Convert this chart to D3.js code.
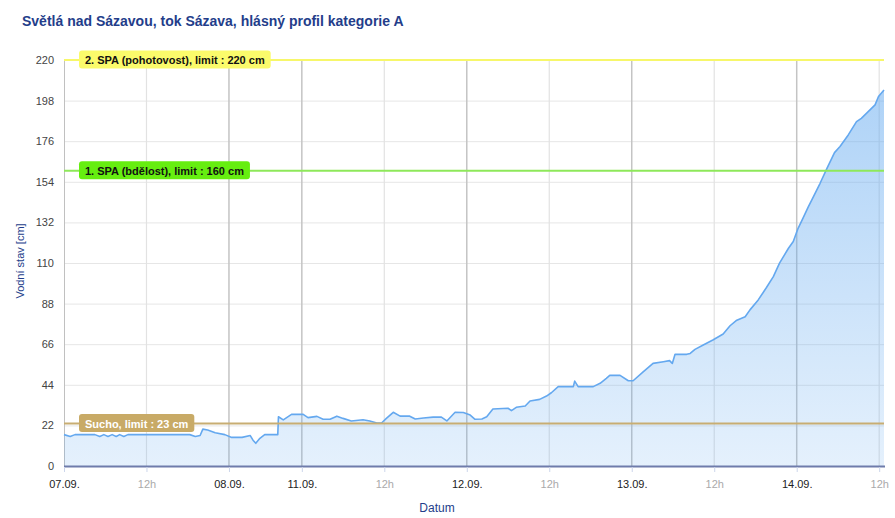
<!DOCTYPE html>
<html>
<head>
<meta charset="utf-8">
<script src="https://cdn.jsdelivr.net/npm/d3@7"></script>
<style>
  html, body { margin: 0; padding: 0; background: #fff; }
  svg { display: block; font-family: "Liberation Sans", Arial, sans-serif; }
</style>
</head>
<body>
<svg id="chart" width="895" height="518"></svg>
<script>
// ---- Data (axis is ordinal: the gap 08.09. -> 11.09. has no data and is collapsed) ----
// position along the collapsed time axis, hours after 07.09. 00:00
const hours = [
  0, 0.9, 1.6, 4.5, 5.2, 5.8, 6.4, 7.0, 7.6, 8.1, 8.7, 9.3, 18.3, 19.1, 19.8, 20.2, 20.9, 22.0, 23.4,
  24.4, 25.9, 27.1, 27.5, 27.9, 28.5, 29.2, 31.1,
  31.2, 31.9, 33.1, 34.8, 35.5, 36.8, 37.7, 38.7, 39.7, 40.6, 41.8, 43.5, 44.5, 45.5, 46.2, 46.9,
  47.9, 48.9, 50.3, 51.1, 52.3, 53.7, 54.9, 55.7, 56.9, 58.1, 59.1, 59.8, 60.8, 61.5, 62.4, 64.6,
  65.1, 65.8, 67.1, 67.8, 69.2, 70.2, 70.9, 71.9, 74.1, 74.3, 74.8, 77.0, 78.0, 78.9, 79.4, 80.9,
  82.1, 82.8, 84.3, 85.7, 87.2, 88.1, 88.5, 88.9, 90.6, 91.1, 91.8, 93.0, 94.4, 95.9, 96.9, 97.8,
  99.1, 99.8, 101.0, 102.2, 103.2, 104.1, 105.4, 106.1, 106.8, 107.5, 108.3, 108.8, 110.0, 111.0,
  112.1, 112.9, 114.1, 115.3, 116.0, 117.0, 118.0, 118.5, 119.3
];
// water level [cm]
const level = [
  17, 16, 17, 17, 16, 17, 16, 17, 16, 17, 16, 17, 17, 16, 16.5, 20, 19.5, 18, 17,
  15.5, 15.5, 16.5, 14, 12.3, 15, 17, 17,
  26.7, 25, 28, 28, 26.2, 26.9, 25.3, 25.3, 27, 25.8, 24.4, 25.1, 24.4, 23.3, 23.3, 25.8,
  29.1, 27, 27, 25.5, 26, 26.5, 26.5, 24.4, 29.1, 29, 27.6, 25.3, 25.5, 26.7, 30.9, 31.3,
  30, 31.8, 32.5, 35.2, 36.1, 37.9, 39.7, 43, 43, 46, 43, 43, 44.8, 47.5, 49.1, 49.1,
  46.2, 46.2, 51.1, 55.6, 56.5, 57.1, 55.6, 60.5, 60.5, 61, 63.2, 65.6, 68.3, 71.5, 76, 78.8,
  80.9, 84.6, 90, 96.7, 102.6, 109.9, 118, 121.6, 128.8, 134.2, 140.5, 144.2, 153.2, 161.3,
  169.8, 173.1, 179.4, 186.6, 188.4, 192, 195.7, 200.2, 203.8
];

// x-axis ticks (positions on the collapsed axis) and their labels
const xTickPos    = [0, 12, 24, 34.6, 46.6, 58.6, 70.6, 82.6, 94.6, 106.6, 118.6];
const xTickLabels = ["07.09.", "12h", "08.09.", "11.09.", "12h", "12.09.", "12h", "13.09.", "12h", "14.09.", "12h"];
const xTickMajor  = [true, false, true, true, false, true, false, true, false, true, false];

// y-axis ticks
const yTicks = [0, 22, 44, 66, 88, 110, 132, 154, 176, 198, 220];

// limit lines
const limitValues = [220, 160, 23];
const limitLabels = ["2. SPA (pohotovost), limit : 220 cm", "1. SPA (bdělost), limit : 160 cm", "Sucho, limit : 23 cm"];
const limitLineColors = ["#f7f76a", "#8ee85a", "#c8ad72"];
const limitBoxColors  = ["#fbfb6b", "#66ee10", "#c8aa66"];
const limitTextColors = ["#111", "#111", "#fff"];

const titleText = "Světlá nad Sázavou, tok Sázava, hlásný profil kategorie A";
const yTitle = "Vodní stav [cm]";
const xTitle = "Datum";

// ---- Layout ----
const svg = d3.select("#chart");
const plotL = 64, plotR = 884, plotT = 60, plotB = 466;

const x = d3.scaleLinear().domain([0, 119.3]).range([plotL, plotR]);
const y = d3.scaleLinear().domain([0, 220]).range([plotB, plotT]);

const navy = "#233d8a";

// title
svg.append("text")
  .attr("x", 22).attr("y", 26)
  .attr("font-size", 14).attr("font-weight", "bold")
  .attr("fill", navy)
  .text(titleText);

// gradient
const defs = svg.append("defs");
const grad = defs.append("linearGradient")
  .attr("id", "areaGrad").attr("gradientUnits", "userSpaceOnUse")
  .attr("x1", 0).attr("x2", 0).attr("y1", plotT).attr("y2", plotB);
grad.append("stop").attr("offset", "0%").attr("stop-color", "#64aaf0").attr("stop-opacity", 0.55);
grad.append("stop").attr("offset", "100%").attr("stop-color", "#64aaf0").attr("stop-opacity", 0.17);

// horizontal grid
svg.append("g").selectAll("line").data(yTicks.filter(d => d > 0)).join("line")
  .attr("x1", plotL).attr("x2", plotR)
  .attr("y1", d => y(d) + 0.5).attr("y2", d => y(d) + 0.5)
  .attr("stroke", "#e6e6e6").attr("stroke-width", 1);

// vertical grid
svg.append("g").selectAll("line").data(xTickPos.map((p, i) => ({p, major: xTickMajor[i]})).filter(d => d.p > 0)).join("line")
  .attr("x1", d => x(d.p)).attr("x2", d => x(d.p))
  .attr("y1", plotT).attr("y2", plotB)
  .attr("stroke", d => d.major ? "#c4c4c4" : "#e2e2e2")
  .attr("stroke-width", d => d.major ? 1.5 : 1.2);

// left axis line
svg.append("line")
  .attr("x1", plotL + 0.5).attr("x2", plotL + 0.5).attr("y1", plotT).attr("y2", plotB)
  .attr("stroke", "#c0c0c0").attr("stroke-width", 1);

// data
const pts = hours.map((h, i) => [h, level[i]]);
svg.append("path").datum(pts)
  .attr("fill", "url(#areaGrad)")
  .attr("d", d3.area().x(d => x(d[0])).y0(y(0)).y1(d => y(d[1])));
svg.append("path").datum(pts)
  .attr("fill", "none").attr("stroke", "#64a8ef").attr("stroke-width", 1.6)
  .attr("stroke-linejoin", "round")
  .attr("d", d3.line().x(d => x(d[0])).y(d => y(d[1])));

// limit lines with labels
limitValues.forEach((v, i) => {
  const ly = y(v);
  svg.append("line")
    .attr("x1", plotL).attr("x2", plotR).attr("y1", ly).attr("y2", ly)
    .attr("stroke", limitLineColors[i]).attr("stroke-width", 2);
  const g = svg.append("g");
  const rect = g.append("rect").attr("rx", 3).attr("ry", 3).attr("fill", limitBoxColors[i]);
  const t = g.append("text")
    .attr("x", 85).attr("y", ly + 4)
    .attr("font-size", 11).attr("font-weight", "bold")
    .attr("fill", limitTextColors[i])
    .text(limitLabels[i]);
  const w = t.node().getComputedTextLength();
  rect.attr("x", 79).attr("y", ly - 9.5).attr("width", w + 12).attr("height", 18);
});

// bottom axis line
svg.append("line")
  .attr("x1", plotL).attr("x2", plotR + 1).attr("y1", plotB + 0.5).attr("y2", plotB + 0.5)
  .attr("stroke", "#6f7cab").attr("stroke-width", 2);

// x axis ticks + labels
const xAxis = d3.axisBottom(x)
  .tickValues(xTickPos)
  .tickSize(5)
  .tickFormat((d, i) => xTickLabels[i]);
const xg = svg.append("g").attr("transform", `translate(0,${plotB + 1})`).call(xAxis);
xg.select(".domain").remove();
xg.selectAll(".tick line").attr("stroke", "#ccd6eb");
xg.selectAll(".tick text")
  .attr("font-size", 11).attr("font-family", "'Liberation Sans', Arial, sans-serif")
  .attr("dy", "1.15em")
  .attr("fill", (d, i) => xTickMajor[i] ? "#222" : "#aaa");

// y axis labels
const yAxis = d3.axisLeft(y).tickValues(yTicks).tickSize(0).tickPadding(10);
const yg = svg.append("g").attr("transform", `translate(${plotL},0)`).call(yAxis);
yg.select(".domain").remove();
yg.selectAll(".tick text")
  .attr("font-size", 11).attr("font-family", "'Liberation Sans', Arial, sans-serif")
  .attr("fill", "#444");

// axis titles
svg.append("text")
  .attr("transform", "translate(24,261) rotate(-90)")
  .attr("text-anchor", "middle")
  .attr("font-size", 11).attr("fill", navy)
  .text(yTitle);
svg.append("text")
  .attr("x", 437).attr("y", 512)
  .attr("text-anchor", "middle")
  .attr("font-size", 12).attr("fill", navy)
  .text(xTitle);
</script>
</body>
</html>
